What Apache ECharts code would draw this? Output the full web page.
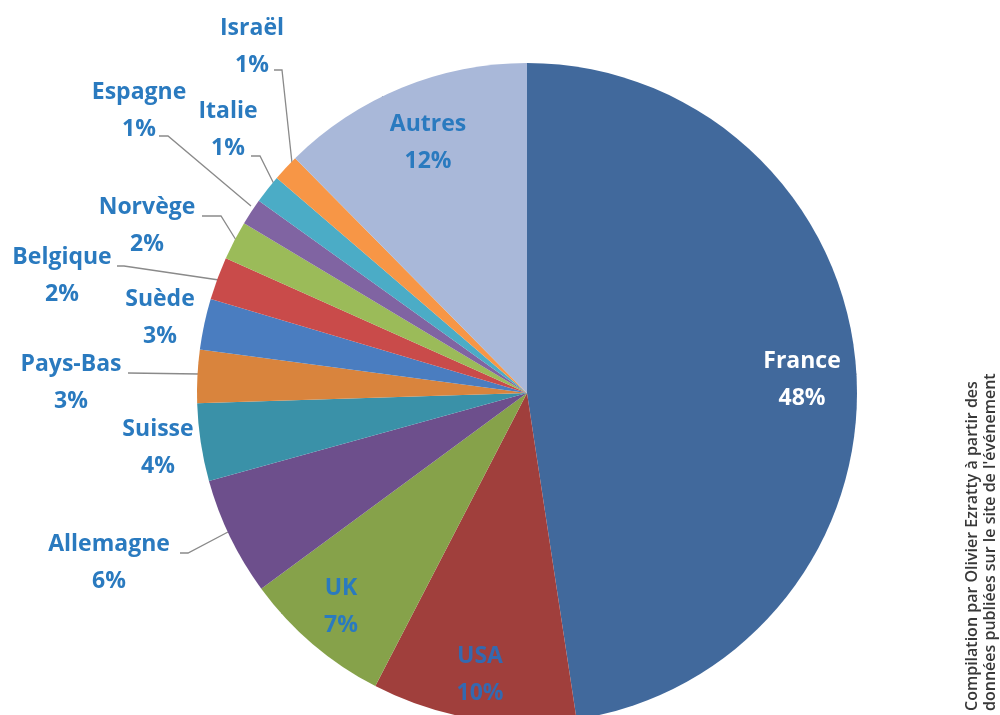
<!DOCTYPE html>
<html><head><meta charset="utf-8">
<script src="https://cdn.jsdelivr.net/npm/echarts@6/dist/echarts.min.js"></script>
<style>html,body{margin:0;padding:0;background:#fff}#c{width:1000px;height:715px}</style>
</head><body><div id="c"></div>
<script>
// Data
const countries = ['France','USA','UK','Allemagne','Suisse','Pays-Bas','Suède','Belgique','Norvège','Espagne','Italie','Israël','Autres'];
const shares    = [47.6, 10.0, 7.3, 5.8, 3.8, 2.6, 2.5, 2.1, 1.9, 1.3, 1.4, 1.3, 12.4];
const shownPct  = [48, 10, 7, 6, 4, 3, 3, 2, 2, 1, 1, 1, 12];

// Styles / layout
const colors = ['#41699c','#a03f3c','#86a24a','#6d4f8c','#3a91a8','#d9843d','#4a7dc0','#c94b4a','#9bbb59','#8064a2','#4bacc6','#f79646','#a9b8d9'];
const insideNames = ['France','USA','UK','Autres'];
const noLine = ['Suède','Suisse'];
const labelPos = {
  'France':[802,380], 'USA':[480,675], 'UK':[341,607], 'Allemagne':[109,563],
  'Suisse':[158,448], 'Pays-Bas':[71,383], 'Suède':[160,318], 'Belgique':[62,276],
  'Norvège':[147,226], 'Espagne':[139,111], 'Italie':[228,130], 'Israël':[252,47], 'Autres':[428,143]
};
const linePts = {
  'Allemagne':[[228,532],[188,553],[180,553]],
  'Pays-Bas':[[199,374],[128,373]],
  'Belgique':[[219,280],[124,266],[117,266]],
  'Norvège':[[236,240],[221,216],[202,216]],
  'Espagne':[[251,206],[168,136],[159,136]],
  'Italie':[[274,184],[260,156],[251,156]],
  'Israël':[[292,163],[282,70],[274,70]]
};

const chart = echarts.init(document.getElementById('c'), null, {renderer:'canvas'});
const data = countries.map((n,i) => {
  const item = { name:n, value:shares[i], itemStyle:{color:colors[i]} };
  if (insideNames.includes(n)) item.label = { position:'inside', color: n==='France' ? '#ffffff' : (n==='USA' ? '#3469b0' : '#2a7abf') };
  if (noLine.includes(n)) item.labelLine = { show:false };
  return item;
});

chart.setOption({
  animation:false,
  backgroundColor:'#ffffff',
  series:[{
    type:'pie',
    center:[527,393],
    radius:330,
    startAngle:90,
    clockwise:true,
    avoidLabelOverlap:false,
    emphasis:{disabled:true},
    itemStyle:{borderWidth:0},
    data:data,
    label:{
      show:true,
      position:'outside',
      formatter:p => p.name + '\n' + shownPct[p.dataIndex] + '%',
      fontFamily:'Open Sans',
      fontWeight:'bold',
      fontSize:23,
      lineHeight:37,
      color:'#2a7abf',
      align:'center'
    },
    labelLine:{show:true, length:10, length2:10, lineStyle:{color:'#8a8a8a', width:1.3}},
    labelLayout:function(params){
      const n = countries[params.dataIndex];
      const p = labelPos[n];
      const o = { x:p[0], y:p[1], align:'center', verticalAlign:'middle' };
      if (linePts[n]) o.labelLinePoints = linePts[n];
      return o;
    }
  }],
  graphic:[{
    type:'text',
    x:963, y:711,
    rotation:Math.PI/2,
    style:{
      text:"Compilation par Olivier Ezratty à partir des\ndonnées publiées sur le site de l'événement",
      font:'600 16px "Open Sans"',
      lineHeight:18,
      fill:'#383838',
      textAlign:'left',
      textVerticalAlign:'top'
    }
  }]
});
</script>
</body></html>
